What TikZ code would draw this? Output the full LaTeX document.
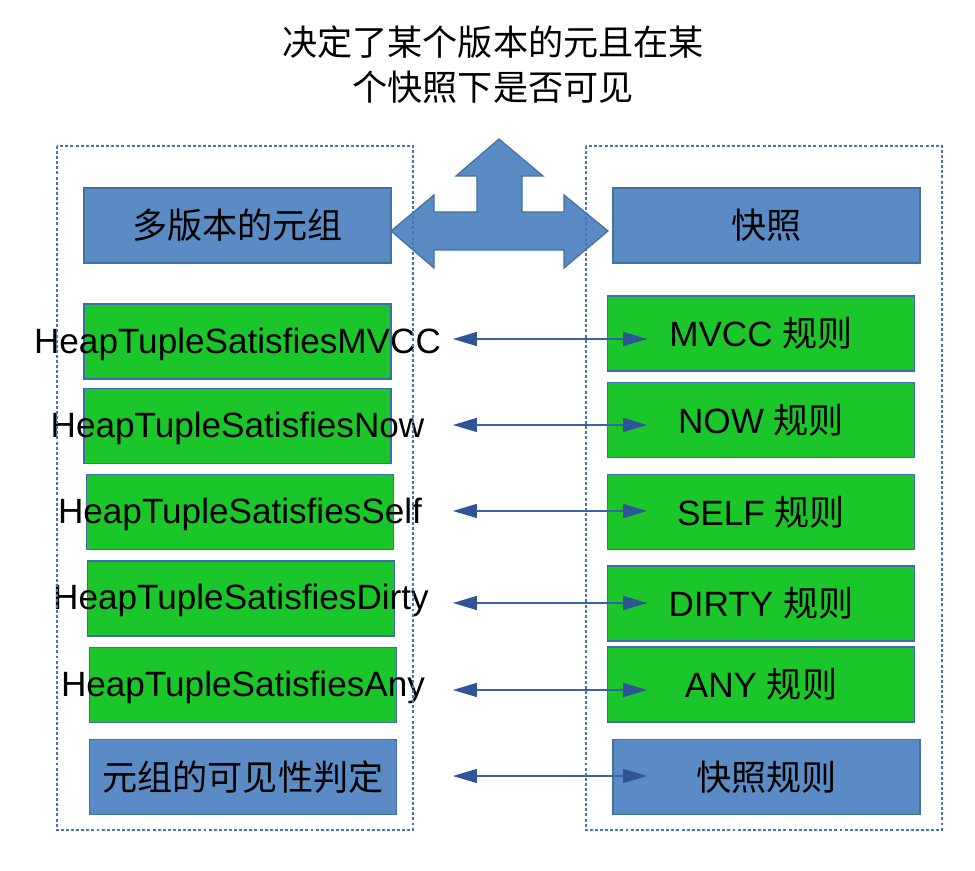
\documentclass[tikz,border=0pt]{standalone}
\usepackage{fontspec}
\setmainfont{Liberation Sans}
\newfontfamily\cjk{Noto Sans CJK SC}
\usepackage{tikz}
\usetikzlibrary{arrows.meta}
\definecolor{boxblue}{HTML}{5B8BC5}
\definecolor{boxedge}{HTML}{41719C}
\definecolor{boxgreen}{HTML}{1BC62A}
\definecolor{greenedge}{HTML}{3F6AAE}
\definecolor{dotline}{HTML}{4A72B8}
\definecolor{arrowblue}{HTML}{2F5597}
\definecolor{linkline}{HTML}{3A62A8}

\begin{document}
\begin{tikzpicture}[x=0.02cm,y=-0.02cm,
    box/.style={draw=boxedge,line width=0.8pt,minimum width=6.14cm,minimum height=1.5cm,inner sep=0pt},
    bbox/.style={box,fill=boxblue},
    gbox/.style={box,draw=greenedge,fill=boxgreen},
    txt/.style={font=\fontsize{20}{24}\selectfont},
    frame/.style={draw=dotline,line width=0.6pt,dash pattern=on 1.7pt off 1.2pt},
    link/.style={draw=linkline,line width=0.6pt,
      {Triangle[length=13.6pt,width=8pt,color=arrowblue]}-{Triangle[length=13.6pt,width=8pt,color=arrowblue]}}]
  \useasboundingbox (0,0) rectangle (975,871);

  \node[txt,font=\fontsize{20}{25.5}\selectfont\cjk,align=center] (title) at (493,65)
    {决定了某个版本的元且在某\\个快照下是否可见};

  % the two heads
  \node[bbox,txt] (tuple) at (237.5,225.5) {\cjk 多版本的元组};
  \node[bbox,txt] (snap) at (766.5,225.5) {\cjk 快照};

  % three-way arrow between them
  \draw[fill=boxblue,draw=boxedge,line width=0.7pt]
    (391,231) -- (434,195) -- (434,212) -- (477,212) -- (477,176) -- (456,176)
    -- (499,139) -- (543,176) -- (522,176) -- (522,212) -- (564,212) -- (564,195)
    -- (608,231) -- (564,268) -- (564,250) -- (434,250) -- (434,268) -- cycle;

  % tuple side
  \node[gbox] (h1) at (237.5,341.5) {};
  \node[gbox] (h2) at (237.5,426) {};
  \node[gbox] (h3) at (240,512) {};
  \node[gbox] (h4) at (241,598.5) {};
  \node[gbox] (h5) at (243,685) {};
  \node[bbox,txt] (h6) at (243,777) {\cjk 元组的可见性判定};
  \node[txt,yshift=-1.6pt] (h1t) at (h1) {HeapTupleSatisfiesMVCC};
  \node[txt,yshift=-1.6pt] (h2t) at (h2) {HeapTupleSatisfiesNow};
  \node[txt,yshift=-1.2pt] (h3t) at (h3) {HeapTupleSatisfiesSelf};
  \node[txt,yshift=-1.2pt] (h4t) at (h4) {HeapTupleSatisfiesDirty};
  \node[txt,yshift=-1.2pt] (h5t) at (h5) {HeapTupleSatisfiesAny};

  % snapshot side
  \node[gbox,txt] (r1) at (761,333.5) {MVCC {\cjk 规则}};
  \node[gbox,txt] (r2) at (761,420) {NOW {\cjk 规则}};
  \node[gbox,txt] (r3) at (761,512) {SELF {\cjk 规则}};
  \node[gbox,txt] (r4) at (761,603.5) {DIRTY {\cjk 规则}};
  \node[gbox,txt] (r5) at (761,684.5) {ANY {\cjk 规则}};
  \node[bbox,txt] (r6) at (766.5,777) {\cjk 快照规则};

  \foreach \i/\y in {1/339,2/425,3/511,4/603,5/690,6/776} {
    \coordinate (s\i) at (453,\y);
    \coordinate (t\i) at (647,\y);
    \draw[link] (s\i) -- (t\i);
  }

  \draw[frame] (57,146) rectangle (413,830);
  \draw[frame] (586,146) rectangle (942,830);
\end{tikzpicture}
\end{document}
